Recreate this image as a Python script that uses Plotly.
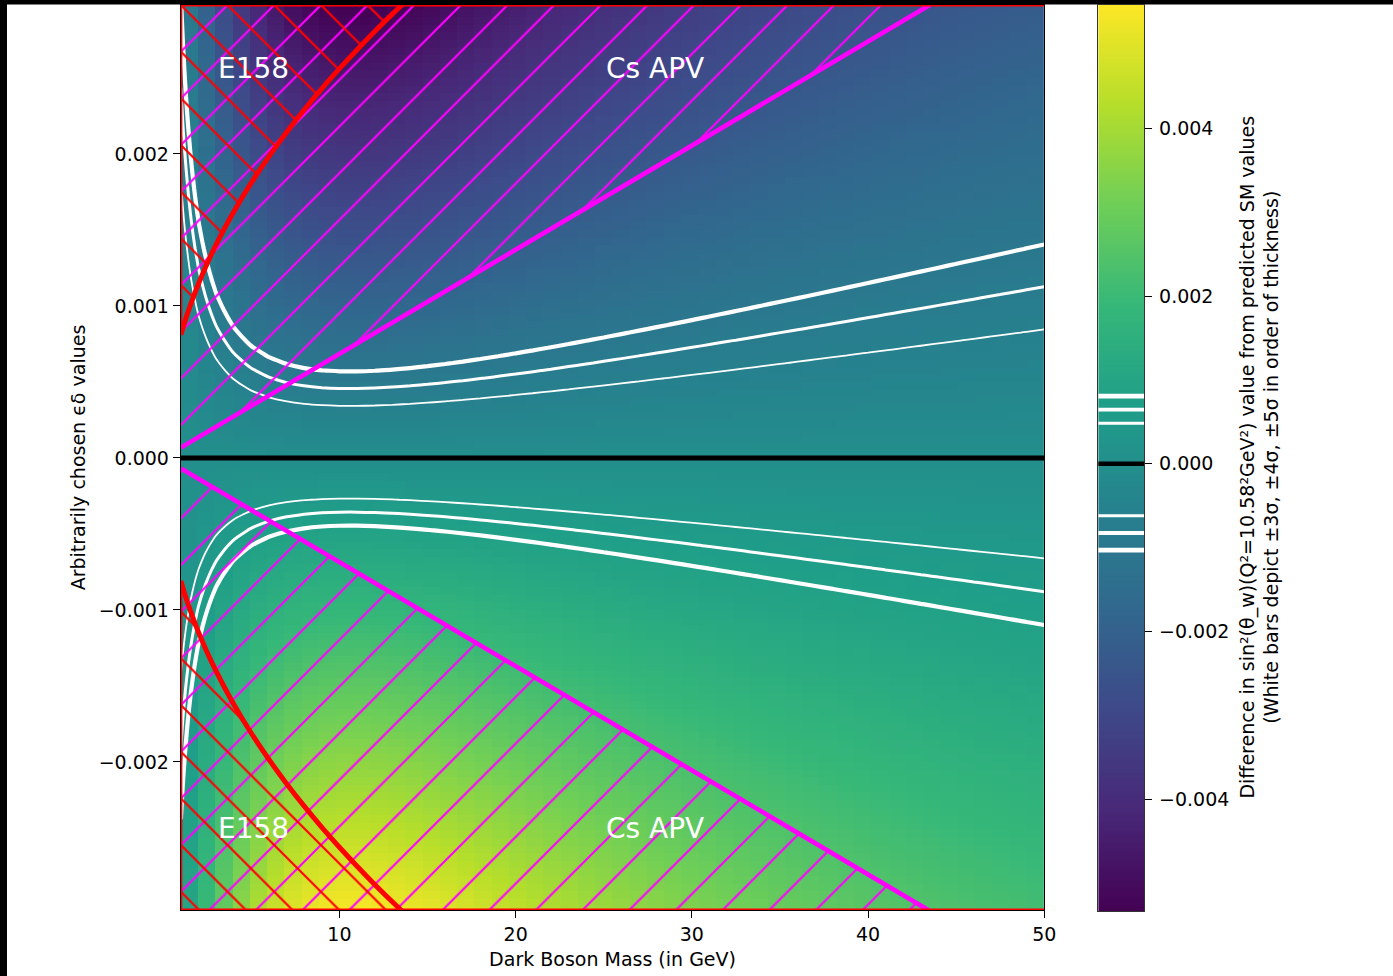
import numpy as np
import plotly.graph_objects as go

# ------------------------------------------------------------------ data
# dark boson masses (GeV) of the heat-map columns
masses = list(range(1, 51))
# size of the sin^2(theta_W) shift per unit of epsilon*delta for each mass column
# (shift = -slope * epsilon*delta), read from the colours of the map
dsin2_slope = [0.3391, 0.6607, 0.9501, 1.1974, 1.3984, 1.5533, 1.6658, 1.7415, 1.7865, 1.8071,
               1.8086, 1.7957, 1.7722, 1.7412, 1.7050, 1.6655, 1.6239, 1.5814, 1.5386, 1.4962,
               1.4546, 1.4139, 1.3743, 1.3361, 1.2993, 1.2638, 1.2297, 1.1969, 1.1655, 1.1354,
               1.1066, 1.0789, 1.0524, 1.0270, 1.0026, 0.9793, 0.9569, 0.9354, 0.9147, 0.8949,
               0.8758, 0.8575, 0.8398, 0.8228, 0.8065, 0.7907, 0.7756, 0.7609, 0.7468, 0.7332]
# epsilon*delta sampling of the map rows
eps_min, eps_max, eps_rows = -0.003, 0.003, 120

# deviation levels (white contours): +3,4,5 sigma and -3,4,5 sigma
sigma_pos = [0.000484, 0.000645, 0.000806]
sigma_neg = [-0.000620, -0.000826, -0.001030]

# E158 exclusion boundary (upper branch; lower branch is its mirror)
e158_mass = [1, 1.25, 1.5, 1.75, 2, 2.5, 3, 3.5, 4, 5, 6, 7, 8, 9, 10, 11, 12, 13, 14]
e158_epsdelta = [0.00081, 0.000906, 0.000992, 0.001071, 0.001146, 0.001281, 0.001403, 0.001515,
                 0.00162, 0.001811, 0.001984, 0.002143, 0.002291, 0.00243, 0.002561, 0.002686,
                 0.002806, 0.00292, 0.00303]
# Cs APV exclusion boundary (upper branch)
apv_mass = [1, 50]
apv_epsdelta = [0.0000685, 0.003425]

# region labels
region_labels = ["E158", "Cs APV"]
label_mass = [3, 25]
label_epsdelta = 0.0025

# colour range of the map / colour bar
z_lo, z_hi = -0.005335, 0.005478

# axis ticks
x_ticks = [10, 20, 30, 40, 50]
y_ticks = [-0.002, -0.001, 0.0, 0.001, 0.002]
y_ticktext = ["\u22120.002", "\u22120.001", "0.000", "0.001", "0.002"]
cb_ticks = [-0.004, -0.002, 0.0, 0.002, 0.004]
cb_ticktext = ["\u22120.004", "\u22120.002", "0.000", "0.002", "0.004"]

# ------------------------------------------------------------------ build
W, H = 1393, 976
WX = 1382          # effective horizontal width the page is drawn at
FONT = "DejaVu Sans"

eps_edges = np.linspace(eps_min, eps_max, eps_rows + 1)
eps_centers = 0.5 * (eps_edges[:-1] + eps_edges[1:])
Z = -np.outer(eps_centers, np.array(dsin2_slope))
x_edges = np.linspace(masses[0], masses[-1], len(masses) + 1)

fig = go.Figure()

fig.add_trace(go.Heatmap(x=x_edges, y=eps_edges, z=Z, colorscale="Viridis",
                         zmin=z_lo, zmax=z_hi, showscale=False, hoverinfo="skip"))

TOP = 0.0036
# Cs APV hatch (magenta '/')
for s in (1, -1):
    fig.add_trace(go.Scatter(
        x=apv_mass + [apv_mass[-1], apv_mass[0]],
        y=[s * v for v in apv_epsdelta] + [s * TOP, s * TOP],
        mode="lines", fill="toself", line=dict(width=0, color="rgba(0,0,0,0)"),
        fillcolor="rgba(0,0,0,0)",
        fillpattern=dict(shape="/", fgcolor="#ff00ff", bgcolor="rgba(0,0,0,0)",
                         size=33, solidity=0.065, fillmode="replace"),
        hoverinfo="skip"))
# E158 hatch (red '\')
for s in (1, -1):
    fig.add_trace(go.Scatter(
        x=e158_mass + [e158_mass[-1], e158_mass[0]],
        y=[s * v for v in e158_epsdelta] + [s * TOP, s * TOP],
        mode="lines", fill="toself", line=dict(width=0, color="rgba(0,0,0,0)", shape="spline"),
        fillcolor="rgba(0,0,0,0)",
        fillpattern=dict(shape="\\", fgcolor="red", bgcolor="rgba(0,0,0,0)",
                         size=33, solidity=0.065, fillmode="replace"),
        hoverinfo="skip"))
    # red left edge of the E158 band
    fig.add_trace(go.Scatter(x=[e158_mass[0], e158_mass[0]], y=[s * e158_epsdelta[0], s * TOP],
                             mode="lines", line=dict(color="red", width=3), hoverinfo="skip"))

# white sigma contours
widths = [1.8, 3.0, 4.2]
for lp, ln, w in zip(sigma_pos, sigma_neg, widths):
    fig.add_trace(go.Contour(
        x=masses, y=eps_centers, z=Z, autocontour=False,
        contours=dict(start=ln, end=lp, size=lp - ln, coloring="none"),
        line=dict(color="white", width=w, smoothing=1.0),
        showscale=False, hoverinfo="skip"))

# boundaries
for s in (1, -1):
    fig.add_trace(go.Scatter(x=apv_mass, y=[s * v for v in apv_epsdelta], mode="lines",
                             line=dict(color="#ff00ff", width=4.6), hoverinfo="skip"))
    fig.add_trace(go.Scatter(x=e158_mass, y=[s * v for v in e158_epsdelta], mode="lines",
                             line=dict(color="red", width=5, shape="spline"), hoverinfo="skip"))

# colour bar drawn as its own small map
cb_edges = np.linspace(z_lo, z_hi, 401)
cb_centers = 0.5 * (cb_edges[:-1] + cb_edges[1:])
fig.add_trace(go.Heatmap(x=[0, 1], y=cb_edges, z=[[v] for v in cb_centers], colorscale="Viridis",
                         zmin=z_lo, zmax=z_hi, showscale=False, hoverinfo="skip",
                         xaxis="x2", yaxis="y2"))

shapes = []
# dark screenshot edges
shapes.append(dict(type="rect", xref="paper", yref="paper", x0=-0.01, x1=7 / WX, y0=0, y1=1,
                   fillcolor="black", line=dict(width=0), layer="below"))
shapes.append(dict(type="rect", xref="paper", yref="paper", x0=-0.01, x1=1.02, y0=1 - 4.5 / H, y1=1,
                   fillcolor="black", line=dict(width=0), layer="below"))
# red edges of the E158 band along top and bottom
for yv in (0.00298, -0.002974):
    shapes.append(dict(type="line", xref="x", yref="y", x0=masses[0], x1=masses[-1], y0=yv, y1=yv,
                       line=dict(color="red", width=3), layer="above"))
# zero line
shapes.append(dict(type="line", xref="x", yref="y", x0=masses[0], x1=masses[-1], y0=0, y1=0,
                   line=dict(color="black", width=5), layer="above"))
# colour-bar markers
cb_w = [3.0, 3.8, 4.6]
for lp, ln, w in zip(sigma_pos, sigma_neg, cb_w):
    for lv in (lp, ln):
        shapes.append(dict(type="line", xref="x2", yref="y2", x0=0, x1=1, y0=lv, y1=lv,
                           line=dict(color="white", width=w), layer="above"))
shapes.append(dict(type="line", xref="x2", yref="y2", x0=0, x1=1, y0=0, y1=0,
                   line=dict(color="black", width=4.5), layer="above"))

annotations = []
for s in (1, -1):
    for lab, m in zip(region_labels, label_mass):
        annotations.append(dict(x=m, y=s * label_epsdelta, xref="x", yref="y", text=lab,
                                showarrow=False, xanchor="left", yanchor="middle", yshift=9,
                                font=dict(family=FONT, size=28, color="white")))
annotations.append(dict(
    x=1260 / WX, y=1 - 457.5 / H, xref="paper", yref="paper", textangle=-90,
    text="Difference in sin\u00b2(\u03b8_w)(Q\u00b2=10.58\u00b2GeV\u00b2) value from predicted SM values"
         "<br>(White bars depict \u00b13\u03c3, \u00b14\u03c3, \u00b15\u03c3 in order of thickness)",
    showarrow=False, xanchor="center", yanchor="middle",
    font=dict(family=FONT, size=19, color="black")))

axis_common = dict(showgrid=False, zeroline=False, showline=True, mirror=True, linecolor="black",
                   linewidth=1.2, ticks="outside", ticklen=7, tickwidth=1.4, tickcolor="black",
                   tickfont=dict(family=FONT, size=19, color="black"))

fig.update_layout(
    width=W, height=H, autosize=False, margin=dict(l=0, r=0, t=0, b=0),
    paper_bgcolor="white", plot_bgcolor="white", showlegend=False,
    font=dict(family=FONT, size=19, color="black"),
    xaxis=dict(domain=[181 / WX, 1045 / WX], range=[masses[0], masses[-1]], tickvals=x_ticks,
               title=dict(text="Dark Boson Mass (in GeV)", font=dict(family=FONT, size=19), standoff=8),
               **axis_common),
    yaxis=dict(domain=[1 - 910 / H, 1 - 5 / H], range=[-0.002974, 0.00298], tickvals=y_ticks,
               ticktext=y_ticktext,
               title=dict(text="Arbitrarily chosen \u03f5\u03b4 values", font=dict(family=FONT, size=19),
                          standoff=7),
               **axis_common),
    xaxis2=dict(domain=[1099 / WX, 1145 / WX], range=[0, 1], showgrid=False, zeroline=False,
                showline=True, mirror=True, linecolor="#333333", linewidth=1.2,
                showticklabels=False, ticks="", anchor="y2"),
    yaxis2=dict(domain=[1 - 911 / H, 1 - 4.5 / H], range=[z_lo, z_hi], anchor="x2", side="right",
                tickvals=cb_ticks, ticktext=cb_ticktext, ticklabelstandoff=3,
                **{k: v for k, v in axis_common.items() if k not in ("linecolor",)},
                linecolor="#333333"),
    shapes=shapes, annotations=annotations,
)

fig.write_html("out.html", config={"responsive": False})
